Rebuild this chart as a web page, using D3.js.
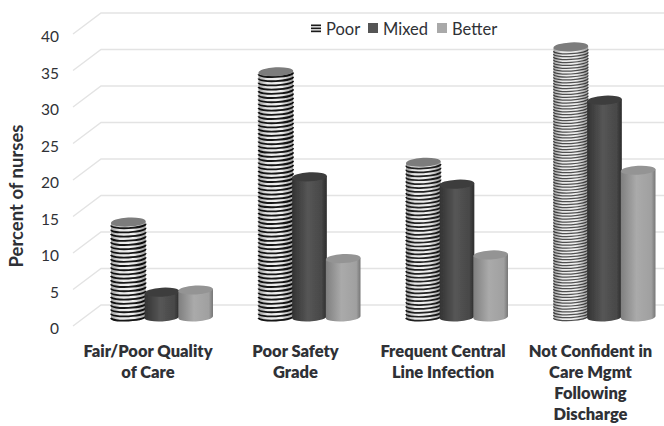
<!DOCTYPE html>
<html>
<head>
<meta charset="utf-8">
<script src="https://cdn.jsdelivr.net/npm/d3@7"></script>
<style>
  html, body { margin: 0; padding: 0; background: #fff; }
  svg { display: block; }
  text { font-family: Lato, "Open Sans", sans-serif; fill: #2f3136; }
</style>
</head>
<body>
<div id="chart"></div>
<script>
//data
var categories = [
  ["Fair/Poor Quality", "of Care"],
  ["Poor Safety", "Grade"],
  ["Frequent Central", "Line Infection"],
  ["Not Confident in", "Care Mgmt", "Following", "Discharge"]
];
var seriesNames = ["Poor", "Mixed", "Better"];
var poor = [13, 33.6, 21.2, 37];
var mixed = [3.4, 19.2, 18.2, 29.7];
var better = [3.7, 8, 8.5, 20.1];
var yTicks = [0, 5, 10, 15, 20, 25, 30, 35, 40];

//globals
var width = 664;
var height = 426;
var rx, ry = 4.5, tilt = 3;
var stripeStep = [4.2, 4.2, 3.9, 2.9];
var stripeOpacity = [1, 1, 0.95, 0.72];
var depthX = 28, depthY = 21;

var svg = d3.select("#chart")
    .append("svg")
    .attr("width", width)
    .attr("height", height);

var defs = svg.append("defs");

function addGradient(id, stops) {
    var g = defs.append("linearGradient").attr("id", id)
        .attr("x1", "0%").attr("x2", "100%").attr("y1", "0%").attr("y2", "0%");
    stops.forEach(function(s) {
        g.append("stop").attr("offset", s[0]).attr("stop-color", s[1]).attr("stop-opacity", s[2] === undefined ? 1 : s[2]);
    });
}
addGradient("bodyMixed", [["0%", "#333"], ["45%", "#565656"], ["85%", "#484848"], ["100%", "#2c2c2c"]]);
addGradient("bodyBetter", [["0%", "#7f7f7f"], ["45%", "#aaaaaa"], ["88%", "#a0a0a0"], ["100%", "#767676"]]);
addGradient("bodyPoor", [["0%", "#000", 0.35], ["25%", "#000", 0.03], ["65%", "#000", 0], ["100%", "#000", 0.35]]);
defs.append("filter").attr("id", "soft")
    .append("feGaussianBlur").attr("stdDeviation", 0.35);

//scales
var yBack = d3.scaleLinear().domain([0, 40]).range([305, 13]);
var yFront = d3.scaleLinear().domain([0, 40]).range([305 + depthY, 13 + depthY]);
var yBar = d3.scaleLinear().domain([0, 40]).range([317, 25]);
var xLabel = d3.scaleBand().domain(d3.range(categories.length)).range([74.25, 664.25]);
var xGroup = d3.scaleBand().domain(d3.range(categories.length)).range([88.25, 678.25]);
var xBar = d3.scaleBand().domain(seriesNames).range([xGroup.bandwidth() / 2 - 50.5, xGroup.bandwidth() / 2 + 50.5]);
rx = xBar.bandwidth() / 2 + 0.5;

//gridlines: side wall and back wall
var grid = svg.append("g").attr("fill", "none").attr("stroke", "#e3e3e3").attr("stroke-width", 1.4);
grid.selectAll("path")
    .data(yTicks)
    .enter()
    .append("path")
    .attr("d", function(d) {
        return "M" + (101 - depthX) + "," + yFront(d) + "L101," + yBack(d) + "L" + width + "," + yBack(d);
    });

//y axis labels
var yAxis = svg.append("g")
    .attr("transform", "translate(59,3)")
    .call(d3.axisLeft(yFront).tickValues(yTicks).tickSize(0).tickPadding(0));
yAxis.select(".domain").remove();
yAxis.selectAll("text")
    .style("font-family", "Lato, 'Open Sans', sans-serif")
    .style("font-size", "15.5px");

svg.append("text")
    .attr("transform", "translate(23,196) rotate(-90)")
    .attr("text-anchor", "middle")
    .style("font-size", "18.5px")
    .style("font-weight", "700")
    .text("Percent of nurses");

//cylinders
function sideD(cx, top, base) {
    var dy = rx * Math.sin(tilt * Math.PI / 180);
    return "M" + (cx - rx) + "," + (top + dy) +
        "L" + (cx - rx) + "," + (base + dy) +
        "A" + rx + "," + ry + " " + (-tilt) + " 0 0 " + (cx + rx) + "," + (base - dy) +
        "L" + (cx + rx) + "," + (top - dy) + "Z";
}
function arcD(cx, y) {
    var dy = rx * Math.sin(tilt * Math.PI / 180);
    return "M" + (cx - rx) + "," + (y + dy) +
        "A" + rx + "," + (ry - 1) + " " + (-tilt) + " 0 0 " + (cx + rx) + "," + (y - dy);
}

var rows = [
    { name: "Poor", values: poor, body: "#f0f0f0", top: "#7b7b7b" },
    { name: "Mixed", values: mixed, body: "url(#bodyMixed)", top: "#3d3d3d" },
    { name: "Better", values: better, body: "url(#bodyBetter)", top: "#949494" }
];

var bars = svg.append("g").attr("filter", "url(#soft)");

categories.forEach(function(c, i) {
    rows.forEach(function(r) {
        var cx = xGroup(i) + xBar(r.name) + xBar.bandwidth() / 2;
        var top = yBar(r.values[i]);
        var base = yBar(0);
        var g = bars.append("g");

        g.append("path").attr("d", sideD(cx, top, base)).attr("fill", r.body);

        if (r.name === "Poor") {
            d3.range(base, top + 1, -stripeStep[i]).forEach(function(y) {
                g.append("path")
                    .attr("d", arcD(cx, y))
                    .attr("fill", "none")
                    .attr("stroke", "#151515")
                    .attr("stroke-opacity", stripeOpacity[i])
                    .attr("stroke-width", stripeStep[i] * 0.43);
            });
            g.append("path").attr("d", sideD(cx, top, base)).attr("fill", "url(#bodyPoor)");
        }

        g.append("ellipse")
            .attr("cx", cx).attr("cy", top)
            .attr("rx", rx).attr("ry", ry)
            .attr("transform", "rotate(" + (-tilt) + " " + cx + " " + top + ")")
            .attr("fill", r.top);
    });
});

//category labels
var catLabels = svg.append("g")
    .selectAll("text")
    .data(categories)
    .enter()
    .append("text")
    .attr("text-anchor", "middle")
    .style("font-size", "16.5px")
    .style("font-weight", "800");

catLabels.selectAll("tspan")
    .data(function(d, i) { return d.map(function(line, k) { return { line: line, k: k, i: i }; }); })
    .enter()
    .append("tspan")
    .attr("x", function(d) { return xLabel(d.i) + xLabel.bandwidth() / 2; })
    .attr("y", function(d) { return 356.5 + d.k * 21; })
    .text(function(d) { return d.line; });

//legend
var legend = svg.append("g");
var legendX = [311, 368, 437];
var legendFill = ["none", "#555", "#a9a9a9"];

seriesNames.forEach(function(name, i) {
    var item = legend.append("g").attr("transform", "translate(" + legendX[i] + ",23)");
    if (i === 0) {
        [1.5, 4.5, 7.5].forEach(function(y) {
            item.append("rect").attr("y", y).attr("width", 10).attr("height", 1.7).attr("fill", "#1a1a1a");
        });
    } else {
        item.append("rect").attr("width", 10).attr("height", 10).attr("fill", legendFill[i]);
    }
    item.append("text")
        .attr("x", 15)
        .attr("y", 11.5)
        .style("font-size", "16.5px")
        .text(name);
});
</script>
</body>
</html>
